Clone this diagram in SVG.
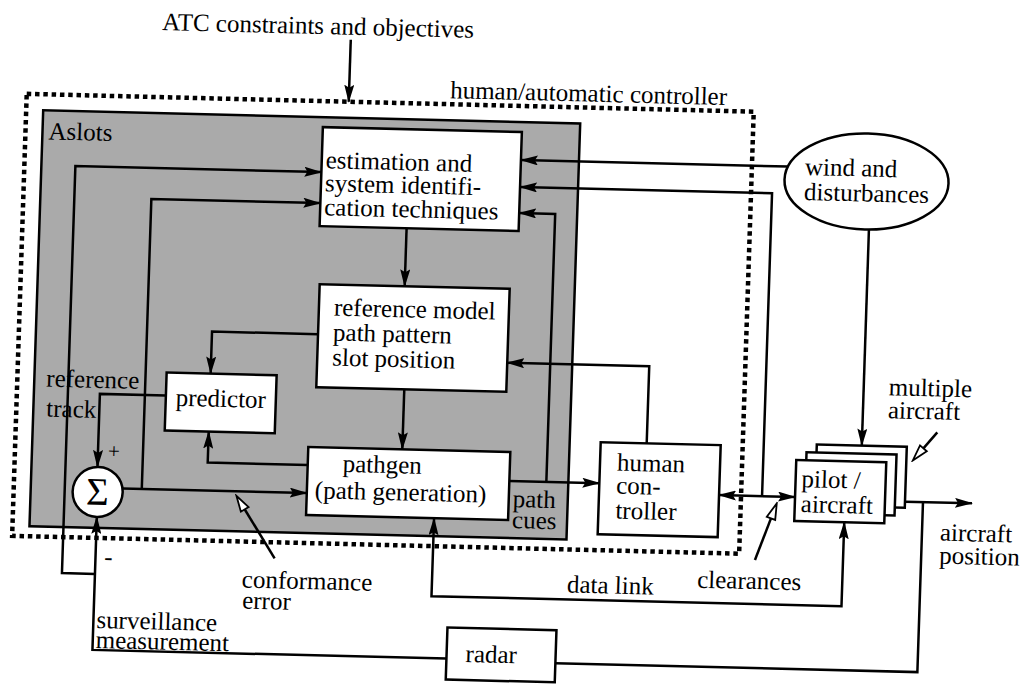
<svg xmlns="http://www.w3.org/2000/svg" width="1031" height="687" viewBox="0 0 1031 687">
<style>
.box{fill:#fff;stroke:#000;stroke-width:2.5}
.ln{fill:none;stroke:#000;stroke-width:2.5}
.t{font-family:"Liberation Serif","Times New Roman",serif;font-size:25px;fill:#000}
.dot{fill:none;stroke:#000;stroke-width:4.5;stroke-dasharray:4.5 3.8}
</style>
<defs>
<marker id="ah" markerUnits="userSpaceOnUse" viewBox="0 0 18 10" markerWidth="18" markerHeight="10" refX="17" refY="5" orient="auto-start-reverse">
<path d="M0,0 L18,5 L0,10 L3,5 z" fill="#000"/>
</marker>
<marker id="oh" markerUnits="userSpaceOnUse" viewBox="-2 -2 20 14" markerWidth="20" markerHeight="14" refX="1" refY="5" orient="auto">
<path d="M0,0.5 L16,5 L0,9.5 z" fill="#fff" stroke="#000" stroke-width="1.8"/>
</marker>
</defs>
<rect width="1031" height="687" fill="#fff"/>
<g transform="matrix(1 0.0245 -0.033 1 11.22 -12.62)">
<text class="t" x="308" y="39" text-anchor="middle">ATC constraints and objectives</text>
<g id="controller">
<rect class="dot" x="19" y="106" width="727" height="442"/>
<text class="t" x="442" y="100">human/automatic controller</text>
</g>
<g id="aslots">
<rect x="36" y="122" width="537" height="416" fill="#aaaaaa" stroke="#000" stroke-width="2.5"/>
<text class="t" x="42" y="151">Aslots</text>
</g>
<g id="estimation">
<rect class="box" x="316" y="132" width="199" height="99"/>
<text class="t" x="320" y="173">estimation and</text>
<text class="t" x="320" y="196">system identifi-</text>
<text class="t" x="320" y="220">cation techniques</text>
</g>
<g id="reference-model">
<rect class="box" x="318" y="289" width="190" height="103"/>
<text class="t" x="333" y="320">reference model</text>
<text class="t" x="333" y="345">path pattern</text>
<text class="t" x="333" y="370">slot position</text>
</g>
<g id="predictor">
<rect class="box" x="168" y="381" width="110" height="58"/>
<text class="t" x="223" y="414" text-anchor="middle">predictor</text>
</g>
<g id="pathgen">
<rect class="box" x="312" y="452" width="202" height="68"/>
<text class="t" x="347" y="476">pathgen</text>
<text class="t" x="320" y="503">(path generation)</text>
</g>
<g id="sum">
<circle class="box" cx="103" cy="502" r="25"/>
<text x="103" y="515" text-anchor="middle" style="font-family:'Liberation Serif',serif;font-size:39px">Σ</text>
</g>
<g id="human-controller">
<rect class="box" x="604" y="440" width="120" height="92"/>
<text class="t" x="621" y="468">human</text>
<text class="t" x="621" y="491">con-</text>
<text class="t" x="621" y="516">troller</text>
</g>
<g id="pilot-aircraft">
<rect class="box" x="820" y="437" width="90" height="61"/>
<rect class="box" x="810" y="445" width="90" height="61"/>
<rect class="box" x="800" y="453" width="90" height="61"/>
<text class="t" x="806" y="480">pilot /</text>
<text class="t" x="806" y="505">aircraft</text>
</g>
<g id="wind">
<ellipse class="box" cx="861" cy="173" rx="82" ry="48"/>
<text class="t" x="799" y="168">wind and</text>
<text class="t" x="799" y="193">disturbances</text>
</g>
<g id="radar">
<rect class="box" x="457" y="629" width="109" height="52"/>
<text class="t" x="476" y="663">radar</text>
</g>
<g id="connectors">
<path class="ln" d="M341,44 V106" marker-end="url(#ah)"/>
<path class="ln" d="M782,160 H515" marker-end="url(#ah)"/>
<path class="ln" d="M767,490 V187 H515" marker-end="url(#ah)"/>
<path class="ln" d="M551,481 V213 H515" marker-end="url(#ah)"/>
<path class="ln" d="M403,231 V289" marker-end="url(#ah)"/>
<path class="ln" d="M406,392 V452" marker-end="url(#ah)"/>
<path class="ln" d="M318,339 H212 V381" marker-end="url(#ah)"/>
<path class="ln" d="M312,470 H212 V439" marker-end="url(#ah)"/>
<path class="ln" d="M168,404 H102 V477" marker-end="url(#ah)"/>
<path class="ln" d="M128,498 H312" marker-end="url(#ah)"/>
<path class="ln" d="M147,498 V208 H316" marker-end="url(#ah)"/>
<path class="ln" d="M457,660 H103 V527" marker-end="url(#ah)"/>
<path class="ln" d="M103,584 H70 V177 H316" marker-end="url(#ah)"/>
<path class="ln" d="M514,481 H604" marker-end="url(#ah)"/>
<path class="ln" d="M650,440 V363 H508" marker-end="url(#ah)"/>
<path class="ln" d="M724,490 H800" marker-start="url(#ah)" marker-end="url(#ah)"/>
<path class="ln" d="M865,221 V437" marker-end="url(#ah)"/>
<path class="ln" d="M440,520 V598 H850 V514" marker-start="url(#ah)" marker-end="url(#ah)"/>
<path class="ln" d="M910,492 H977" marker-end="url(#ah)"/>
<path class="ln" d="M928,492 V662 H566"/>
<path class="ln" d="M282,564 L250,515" marker-end="url(#oh)"/>
<path class="ln" d="M762,554 L777,511" marker-end="url(#oh)"/>
<path class="ln" d="M940,422 L926,439" marker-end="url(#oh)"/>
</g>
<g id="labels">
<text class="t" x="48" y="398">reference</text>
<text class="t" x="49" y="428">track</text>
<text class="t" x="118" y="468" text-anchor="middle" style="font-size:21px">+</text>
<text class="t" x="116" y="575" text-anchor="middle">-</text>
<text class="t" x="518" y="507">path</text>
<text class="t" x="518" y="528">cues</text>
<text class="t" x="250" y="594">conformance</text>
<text class="t" x="251" y="615">error</text>
<text class="t" x="705" y="583">clearances</text>
<text class="t" x="575" y="591">data link</text>
<text class="t" x="106" y="638">surveillance</text>
<text class="t" x="106" y="658">measurement</text>
<text class="t" x="890" y="386">multiple</text>
<text class="t" x="890" y="409">aircraft</text>
<text class="t" x="946" y="530">aircraft</text>
<text class="t" x="946" y="553">position</text>
</g>
</g>
</svg>
